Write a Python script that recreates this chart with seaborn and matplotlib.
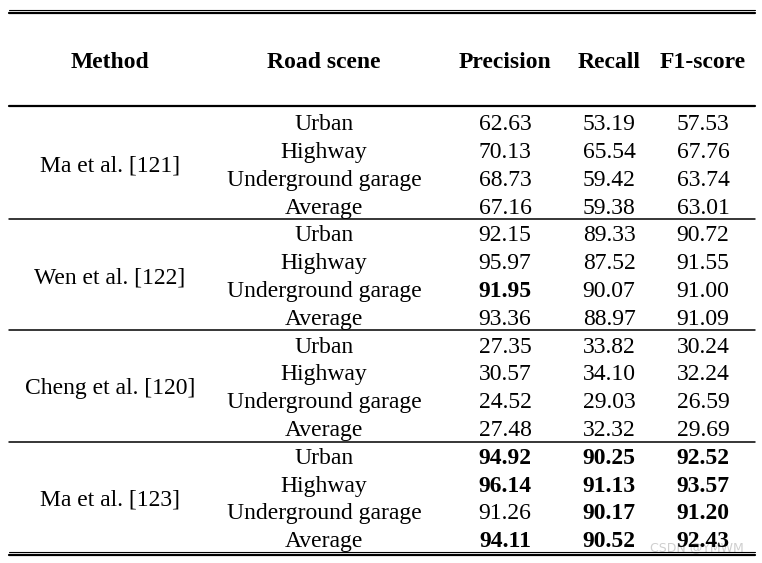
import numpy as np
import pandas as pd
import matplotlib
matplotlib.use("Agg")
import matplotlib.pyplot as plt
import seaborn as sns

# table content
methods = ["Ma et al. [121]", "Wen et al. [122]", "Cheng et al. [120]", "Ma et al. [123]"]
scenes = ["Urban", "Highway", "Underground garage", "Average"]
headers = ["Method", "Road scene", "Precision", "Recall", "F1-score"]

precision = [62.63, 70.13, 68.73, 67.16,
             92.15, 95.97, 91.95, 93.36,
             27.35, 30.57, 24.52, 27.48,
             94.92, 96.14, 91.26, 94.11]
recall = [53.19, 65.54, 59.42, 59.38,
          89.33, 87.52, 90.07, 88.97,
          33.82, 34.10, 29.03, 32.32,
          90.25, 91.13, 90.17, 90.52]
f1 = [57.53, 67.76, 63.74, 63.01,
      90.72, 91.55, 91.00, 91.09,
      30.24, 32.24, 26.59, 29.69,
      92.52, 93.57, 91.20, 92.43]

# best values shown in bold (row index, column name)
bold_cells = [(6, "Precision"),
              (12, "Precision"), (12, "Recall"), (12, "F1-score"),
              (13, "Precision"), (13, "Recall"), (13, "F1-score"),
              (14, "Recall"), (14, "F1-score"),
              (15, "Precision"), (15, "Recall"), (15, "F1-score")]

df = pd.DataFrame({
    "Method": np.repeat(methods, len(scenes)),
    "Road scene": scenes * len(methods),
    "Precision": precision,
    "Recall": recall,
    "F1-score": f1,
})


def main():
    sns.set_style("white")
    plt.rcParams["font.family"] = ["Liberation Serif", "DejaVu Serif"]
    plt.rcParams["text.color"] = "black"

    fig = plt.figure(figsize=(7.62, 5.63), dpi=100)
    ax = fig.add_axes([0, 0, 1, 1])
    ax.set_xlim(0, 762)
    ax.set_ylim(15.863, -4.388)  # one unit per table row
    ax.axis("off")

    col_x = {"Method": 110, "Road scene": 324, "Precision": 505,
             "Recall": 609, "F1-score": 703}
    fs = 17
    dy = 0.1  # nudge text down a touch
    x0, x1 = 9, 755

    # header
    for h in headers:
        ax.text(col_x[h], -2.23 + dy, h, ha="center", va="center",
                fontsize=fs, fontweight="bold")

    # rules
    ax.plot([x0, x1], [-4.03, -4.03], color="black", lw=0.8)
    ax.plot([x0, x1], [-3.93, -3.93], color="black", lw=1.6)
    ax.plot([x0, x1], [-0.58, -0.58], color="black", lw=1.6)
    for g in range(1, len(methods)):
        yy = g * len(scenes) - 0.5
        ax.plot([x0, x1], [yy, yy], color="black", lw=1.1)
    ax.plot([x0, x1], [15.45, 15.45], color="black", lw=0.8)
    ax.plot([x0, x1], [15.58, 15.58], color="black", lw=1.6)

    # method labels, centred on their group
    n = len(scenes)
    for g, m in enumerate(methods):
        ax.text(col_x["Method"], g * n + (n - 1) / 2 + dy, m, ha="center",
                va="center", fontsize=fs)

    bold = set(bold_cells)
    for i, row in df.iterrows():
        ax.text(col_x["Road scene"], i + dy, row["Road scene"], ha="center",
                va="center", fontsize=fs)
        for c in ["Precision", "Recall", "F1-score"]:
            w = "bold" if (i, c) in bold else "normal"
            ax.text(col_x[c], i + dy, f"{row[c]:.2f}", ha="center", va="center",
                    fontsize=fs, fontweight=w)

    # faint watermark
    ax.text(700, 15.3, "CSDN @YMWM_", ha="center", va="center",
            fontsize=9, color="#cfcfcf", family="DejaVu Sans", zorder=0)

    fig.savefig("out.png", dpi=100, facecolor="white")


if __name__ == "__main__":
    main()
